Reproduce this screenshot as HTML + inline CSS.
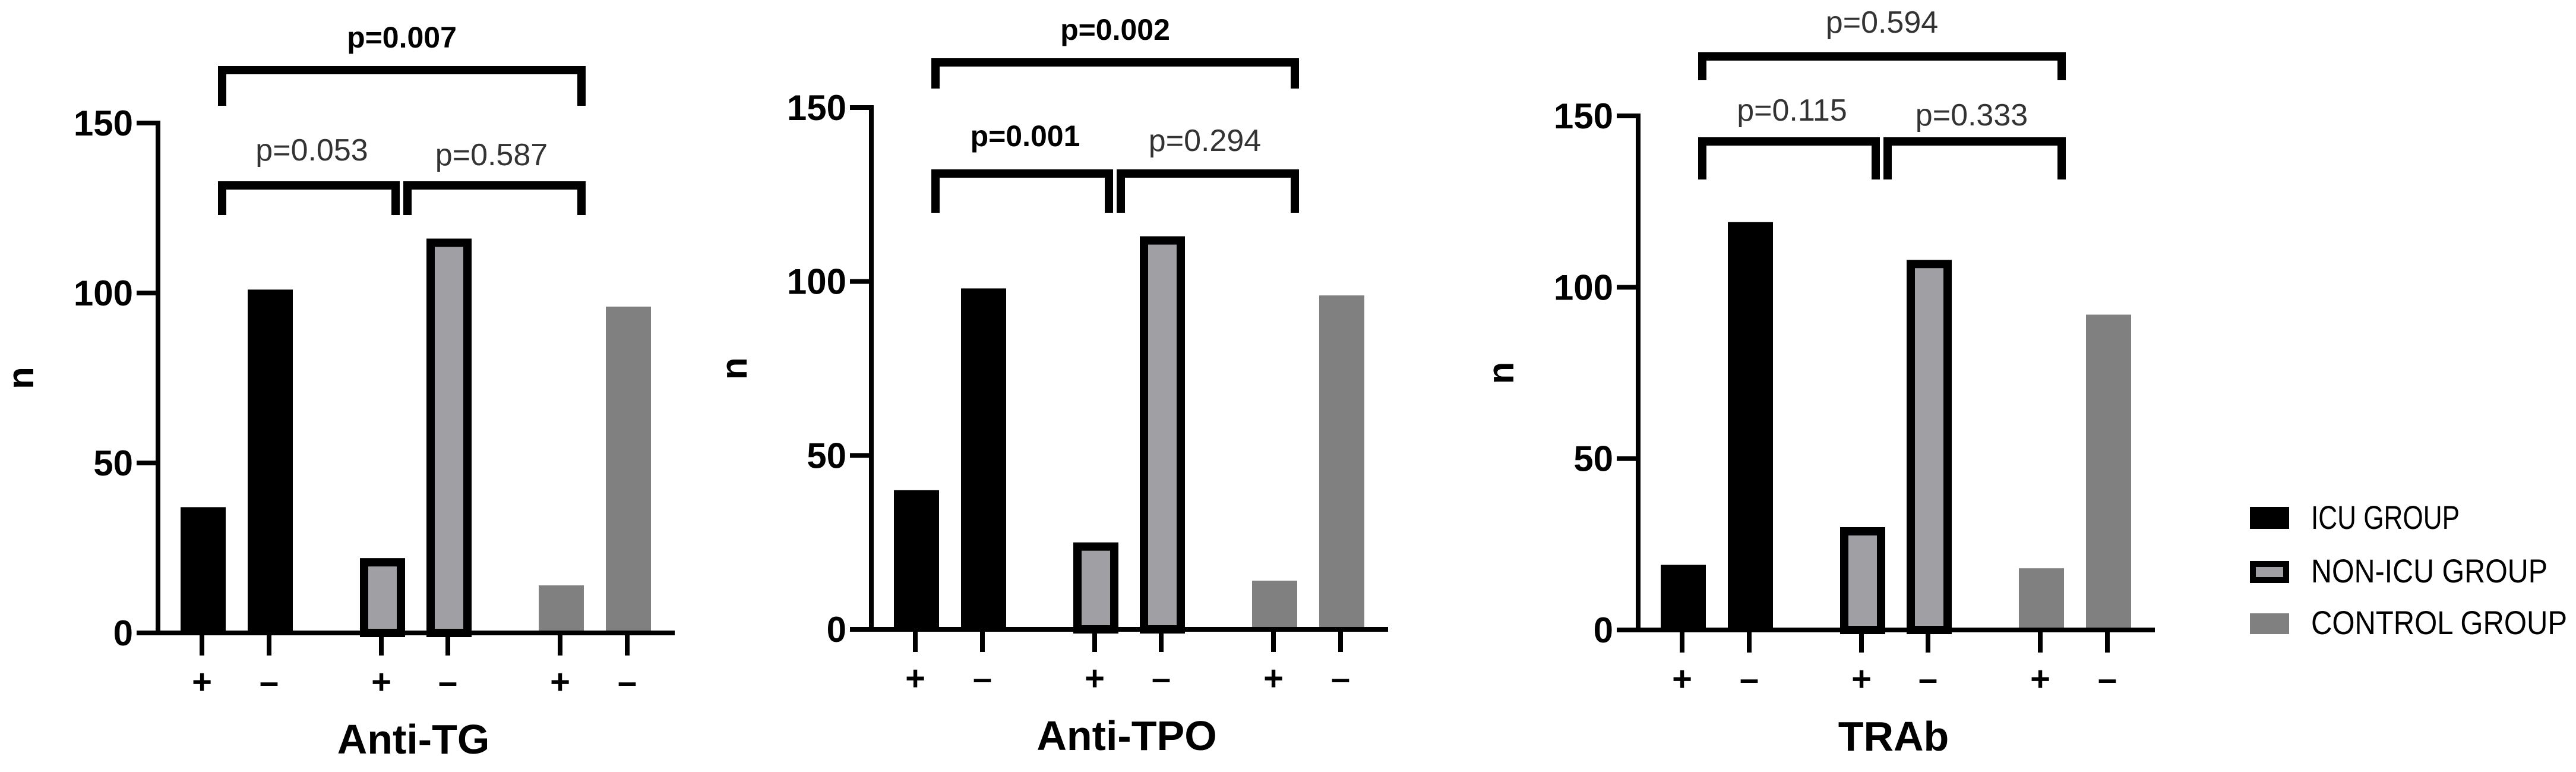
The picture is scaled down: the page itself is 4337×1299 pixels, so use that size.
<!DOCTYPE html>
<html><head><meta charset="utf-8">
<style>
html,body{margin:0;padding:0;background:#fff;}
svg{display:block;}
text{font-family:"Liberation Sans",Arial,sans-serif;}
</style></head>
<body>
<svg id="fig" width="4337" height="1299" viewBox="0 0 4337 1299" xmlns="http://www.w3.org/2000/svg">
  <g id="legend">
    <g>
      <rect x="3788" y="853" width="66" height="37" fill="#000"/>
      <text x="3891" y="890" font-size="56" textLength="250" lengthAdjust="spacingAndGlyphs">ICU GROUP</text>
    </g>
    <g>
      <rect x="3793" y="949" width="56" height="27" fill="#a0a0a4" stroke="#000" stroke-width="10"/>
      <text x="3891" y="980" font-size="56" textLength="398" lengthAdjust="spacingAndGlyphs">NON-ICU GROUP</text>
    </g>
    <g>
      <rect x="3788" y="1032" width="66" height="35" fill="#808080"/>
      <text x="3891" y="1067" font-size="56" textLength="431" lengthAdjust="spacingAndGlyphs">CONTROL GROUP</text>
    </g>
  </g>
</svg>
<script>
const categories = ["+", "\u2013", "+", "\u2013", "+", "\u2013"];
const groups = ["icu", "icu", "nonicu", "nonicu", "control", "control"];
const chartTitles = ["Anti-TG", "Anti-TPO", "TRAb"];
const antiTgValues = [37, 101, 22, 116, 14, 96];
const antiTpoValues = [40, 98, 25, 113, 14, 96];
const trabValues = [19, 119, 30, 108, 18, 92];
const yTicks = [0, 50, 100, 150];
const pTop = ["p=0.007", "p=0.002", "p=0.594"];
const pLeft = ["p=0.053", "p=0.001", "p=0.115"];
const pRight = ["p=0.587", "p=0.294", "p=0.333"];
const pTopBold = [true, true, false];
const pLeftBold = [false, true, false];
const pRightBold = [false, false, false];

const NS = "http://www.w3.org/2000/svg";
const svg = document.getElementById("fig");
function mk(tag, attrs, parent) {
  const e = document.createElementNS(NS, tag);
  for (const k in attrs) e.setAttribute(k, attrs[k]);
  parent.appendChild(e);
  return e;
}
const layouts = [
  {ax: 266, y0: 1065, y150: 207, top: [112, 178], inner: [306, 362], pTopY: 80, pInY: 270},
  {ax: 1467, y0: 1059, y150: 181, top: [99, 149], inner: [286, 358], pTopY: 67, pInY: 246},
  {ax: 2758, y0: 1060, y150: 195, top: [89, 135], inner: [232, 302], pTopY: 55, pInY: 203}
];
const offsets = [76, 189, 378, 490, 679, 792];
const barW = 76;
const allValues = [antiTgValues, antiTpoValues, trabValues];

layouts.forEach((L, ci) => {
  const g = mk("g", {}, svg);
  
  
  const yS = v => L.y0 - (L.y0 - L.y150) * v / 150;
  const xC = i => L.ax + offsets[i];
  const vals = allValues[ci];
  vals.forEach((v, i) => {
    const x = xC(i) - barW / 2, y = yS(v), h = L.y0 - y;
    let r;
    if (groups[i] === "nonicu") {
      r = mk("rect", {x: x + 7, y: y + 7, width: barW - 14, height: Math.max(h - 7, 0), fill: "#a0a0a4", stroke: "#000", "stroke-width": 14}, g);
    } else {
      r = mk("rect", {x: x, y: y, width: barW, height: h, fill: groups[i] === "icu" ? "#000" : "#808080"}, g);
    }
    
    
  });
  const ya = mk("line", {x1: L.ax, y1: L.y150 - 4, x2: L.ax, y2: L.y0 + 4, stroke: "#000", "stroke-width": 8}, g);
  
  
  yTicks.forEach(t => {
    mk("line", {x1: L.ax - 36, y1: yS(t), x2: L.ax, y2: yS(t), stroke: "#000", "stroke-width": 8}, g);
    const tl = mk("text", {x: L.ax - 42, y: yS(t) + 21, "font-size": 60, "font-weight": "bold", "text-anchor": "end"}, g);
    tl.textContent = t;
    
    
  });
  const xa = mk("line", {x1: L.ax - 36, y1: L.y0, x2: L.ax + 870, y2: L.y0, stroke: "#000", "stroke-width": 8}, g);
  
  
  categories.forEach((c, i) => {
    mk("line", {x1: xC(i) - 2, y1: L.y0, x2: xC(i) - 2, y2: L.y0 + 38, stroke: "#000", "stroke-width": 8}, g);
    const cl = mk("text", {x: xC(i) - 2, y: L.y0 + 102, "font-size": 58, "font-weight": "bold", "text-anchor": "middle"}, g);
    cl.textContent = c;
    
    
  });
  const xt = mk("text", {x: L.ax + 430, y: L.y0 + 203, "font-size": 70, "font-weight": "bold", "text-anchor": "middle"}, g);
  xt.textContent = chartTitles[ci];
  
  
  const nx = L.ax - 210, ny = (L.y0 + L.y150) / 2;
  const yt = mk("text", {x: nx, y: ny, "font-size": 62, "font-weight": "bold", "text-anchor": "middle", transform: "rotate(-90 " + nx + " " + ny + ")"}, g);
  yt.textContent = "n";
  
  
  const bx0 = xC(0) + 32, bx2 = xC(2) + 32, bx4 = xC(4) + 34;
  function bracket(xa1, xb1, yt1, yb1, name) {
    const p = mk("path", {d: "M" + xa1 + " " + yb1 + " V" + yt1 + " H" + xb1 + " V" + yb1, fill: "none", stroke: "#000", "stroke-width": 14}, g);
    
    
  }
  bracket(bx0, bx4, L.top[0] + 6, L.top[1], 'bracket-top');
  bracket(bx0, bx2 - 10, L.inner[0] + 6, L.inner[1], 'bracket-left');
  bracket(bx2 + 10, bx4, L.inner[0] + 6, L.inner[1], 'bracket-right');
  function ptext(x, y, s, bold, name) {
    const t = mk("text", {x: x, y: y, "font-size": bold ? 50 : 52, "font-weight": bold ? "bold" : "normal", fill: bold ? "#000" : "#333", "text-anchor": "middle"}, g);
    t.textContent = s;
    
    
  }
  ptext((bx0 + bx4) / 2, L.pTopY, pTop[ci], pTopBold[ci], 'p-value-top');
  ptext((bx0 + bx2) / 2, L.pInY, pLeft[ci], pLeftBold[ci], 'p-value-left');
  ptext((bx2 + bx4) / 2, L.pInY + 8, pRight[ci], pRightBold[ci], 'p-value-right');
});
</script>
</body></html>
